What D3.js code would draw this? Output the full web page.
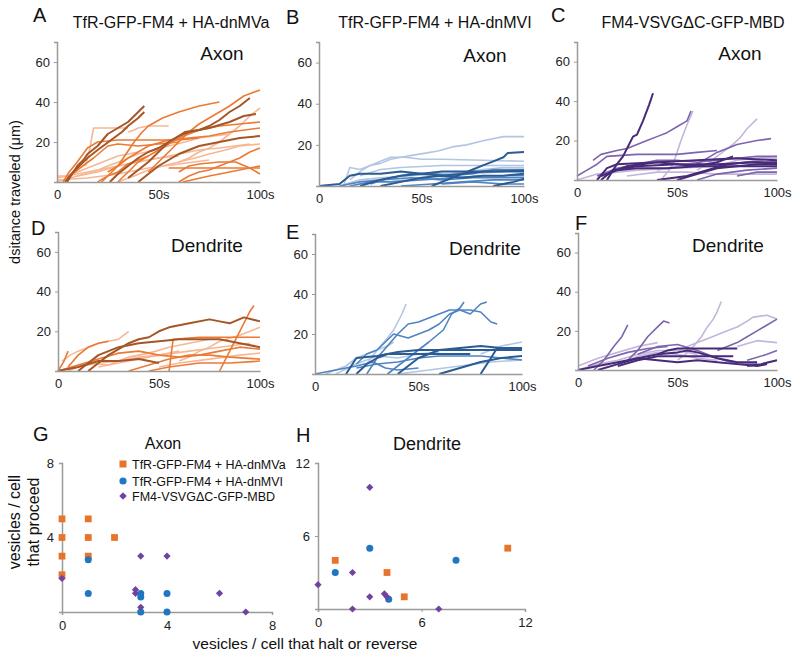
<!DOCTYPE html>
<html><head><meta charset="utf-8">
<script src="https://cdn.jsdelivr.net/npm/d3@7"></script>
<style>body{margin:0;background:#fff}svg{font-family:"Liberation Sans",Arial,sans-serif}</style>
</head><body><svg id="c" width="800" height="658"></svg>
<script>
// ---------- DATA: trajectories [time s, distance µm] ----------
const A_light = [
 [[14,8],[16,16],[18,27],[24,27],[30,27],[35,27]],
 [[35,25],[38,26],[40,27],[45,28],[50,28],[55,28]],
 [[0,2],[10,4],[20,6],[30,8],[40,10],[50,12],[60,13]],
 [[60,10],[65,12],[70,15],[75,17],[80,20],[85,24],[90,28],[95,33],[100,37]],
 [[0,0],[10,3],[20,5],[30,8],[40,10],[50,12],[60,14],[70,16],[80,17],[95,19]],
 [[10,3],[18,5],[25,8],[33,11],[40,14],[48,16],[55,18],[63,20],[70,22],[85,24]],
 [[30,0],[38,3],[45,6],[52,8],[60,10],[68,12],[75,14],[83,16],[90,18],[100,19]],
 [[0,1],[15,2],[30,4],[45,7],[60,9],[75,11]],
 [[0,3],[5,3],[10,5],[20,9],[30,13],[40,15]]
];
const A_mid = [
 [[22,0],[26,4],[30,8],[34,14],[38,20],[42,25],[45,28],[52,32],[60,35],[70,38],[80,40]],
 [[45,5],[50,10],[55,15],[60,20],[65,25],[70,29],[75,32],[80,35],[85,38],[92,43],[100,46]],
 [[30,0],[35,5],[40,10],[45,13],[50,16],[55,19],[60,22],[65,24],[70,26],[80,28],[90,29],[100,30]],
 [[25,5],[30,8],[35,12],[40,15],[45,18],[55,21],[65,22],[75,23],[85,25],[100,27]],
 [[60,5],[65,8],[70,9],[80,10],[88,10],[95,7],[100,4]],
 [[55,7],[70,7],[85,7],[100,7]],
 [[60,0],[65,3],[70,5],[75,6],[80,8],[85,10],[90,12],[95,15],[100,17]],
 [[3,0],[6,5],[10,10],[15,17],[20,20],[30,21],[40,21],[50,21],[60,21],[70,22]],
 [[5,2],[10,6],[14,9],[18,12],[25,18],[30,19],[40,18],[50,19],[60,20]],
 [[62,0],[75,3],[85,5],[100,8]],
 [[20,0],[25,3],[30,5],[35,9],[40,11],[45,13]]
];
const A_dark = [
 [[5,0],[8,5],[10,8],[13,11],[15,14],[20,18],[25,24],[30,27],[35,30],[38,33],[40,35],[43,38]],
 [[4,0],[7,4],[10,7],[15,12],[20,16],[24,19],[28,22],[32,25],[35,28],[40,32],[43,35]],
 [[26,0],[30,4],[35,8],[40,12],[45,15],[50,17],[55,20],[60,23],[65,25],[70,26],[75,28],[80,31],[85,35],[90,38],[95,42]],
 [[40,0],[45,4],[50,8],[55,11],[60,14],[65,16],[70,18],[80,20],[90,22],[100,23]],
 [[35,2],[40,6],[45,10],[50,15],[55,20],[60,23],[63,25],[70,26],[75,27],[85,30],[92,33],[98,34]]
];
const B_light = [
 [[12,0],[15,9],[20,8],[25,10],[30,11],[35,13],[40,14],[46,15],[52,16],[58,17],[65,19],[72,20],[80,22],[90,24],[100,24]],
 [[15,3],[20,7],[25,10],[30,12],[35,14],[42,14],[50,13],[60,13],[80,12.5],[100,12]],
 [[20,5],[30,8],[40,9],[60,10],[80,10],[100,10]],
 [[35,2],[50,4],[65,6],[80,8],[90,9],[100,9]],
 [[10,0],[20,3],[30,4],[45,5],[60,6],[75,6],[90,7]]
];
const B_mid = [
 [[10,0],[20,2],[30,3],[45,4],[60,3],[75,4],[90,4],[100,4]],
 [[40,0],[55,1],[70,2],[85,3],[100,3]],
 [[25,1],[35,4],[45,6],[55,6],[65,5],[75,6],[85,8],[100,8]],
 [[60,1],[75,2],[90,1],[100,1]],
 [[15,0],[25,2],[35,2],[50,3],[65,4],[80,5],[100,5]]
];
const B_dark = [
 [[55,0],[60,2],[65,4],[70,6],[75,8],[80,10],[85,12],[90,14],[92,16],[100,16.5]],
 [[0,0],[10,1],[15,5],[20,6],[30,6],[40,7],[50,6],[60,5],[70,6],[80,7],[90,7],[100,7]],
 [[30,0],[40,2],[50,4],[60,5],[70,4],[80,5],[90,5],[100,6]],
 [[85,0],[95,2],[100,3.5]],
 [[20,0],[30,3],[40,5],[50,6],[60,7],[70,7],[80,7],[100,7.5]]
];
const C_light = [
 [[42,0],[46,5],[48,8],[50,14],[52,20],[55,28],[58,35]],
 [[60,5],[65,8],[70,12],[74,15],[78,18],[82,22],[85,26],[90,31]],
 [[0,0],[10,3],[30,5],[50,6],[70,7],[90,10],[100,11]],
 [[25,2],[40,4],[55,4],[70,3],[85,3],[100,3]],
 [[40,5],[50,7],[60,8],[70,7],[80,10],[90,11],[100,12]]
];
const C_mid = [
 [[8,10],[12,13],[20,15],[25,16],[30,18],[35,20],[40,22],[45,24],[50,27],[55,30],[57,35]],
 [[0,2],[5,5],[10,8],[15,12],[30,13],[50,13],[60,14],[70,15]],
 [[60,0],[70,3],[85,5],[100,6]],
 [[80,2],[90,4],[100,4]],
 [[60,8],[65,11],[70,14],[75,16],[80,18],[85,19],[90,20],[97,21]],
 [[10,2],[20,6],[30,8],[40,10],[50,10],[60,9],[70,10],[80,11],[90,12],[100,12]]
];
const C_dark = [
 [[15,0],[18,5],[20,8],[23,12],[25,16],[28,22],[30,23],[33,30],[36,38],[38,44]],
 [[10,0],[15,6],[20,8],[40,9],[60,10],[80,11],[100,10]],
 [[12,0],[18,5],[30,7],[50,8],[70,8],[90,9],[100,8]],
 [[40,0],[55,2],[65,5],[75,8],[85,9],[100,9]],
 [[15,3],[25,7],[40,9],[50,8],[60,7],[70,9],[78,12]],
 [[12,2],[20,5],[30,6],[45,6],[60,7],[75,7],[90,7],[100,7]],
 [[50,0],[60,3],[70,6],[80,7],[90,8],[100,8]]
];
const D_light = [
 [[2,5],[6,8],[10,10],[15,12],[20,14],[25,15],[30,16],[35,20]],
 [[60,5],[65,7],[70,10],[75,12],[80,15],[90,18],[100,22]],
 [[20,2],[35,5],[50,8],[65,10],[80,12],[95,14]],
 [[5,0],[15,4],[25,3],[35,7],[45,9],[55,12],[65,14],[75,16]],
 [[50,2],[60,4],[75,6],[90,8],[100,9]],
 [[10,2],[20,4],[30,5],[40,7],[50,8],[60,10]]
];
const D_mid = [
 [[80,0],[85,10],[90,20],[95,30],[97,33]],
 [[55,0],[57,16],[70,17],[85,17],[100,17]],
 [[0,0],[3,5],[5,10]],
 [[0,0],[10,3],[20,6],[30,9],[40,10],[50,8],[60,7],[70,8],[80,10],[90,12],[100,11]],
 [[35,0],[45,3],[55,6],[65,8],[75,8],[85,7],[100,6]],
 [[45,0],[55,2],[70,4],[85,4],[100,5]],
 [[5,2],[10,8],[15,12],[20,14],[25,15]]
];
const D_dark = [
 [[15,0],[20,4],[25,8],[30,11],[35,14],[40,16],[45,17],[50,20],[55,22],[65,24],[75,26],[80,25],[85,24],[92,27],[100,25]],
 [[10,0],[15,4],[20,8],[25,10],[30,12],[40,14],[50,15],[60,16],[70,16],[80,16],[90,14],[100,12]],
 [[0,0],[10,2],[20,5],[30,5],[40,6],[50,4]]
];
const E_light = [
 [[25,5],[30,12],[35,18],[38,22],[40,26],[42,30],[44,35]],
 [[40,0],[55,2],[70,4],[85,6],[100,7]],
 [[5,0],[15,4],[20,8],[25,10],[30,12],[35,14],[38,16]],
 [[80,10],[90,14],[100,16]],
 [[10,0],[20,5],[30,9],[40,8],[50,10],[60,11]]
];
const E_mid = [
 [[25,0],[30,8],[35,14],[40,20],[45,25],[50,26],[55,28],[60,30],[65,32],[75,32],[80,31],[85,26],[88,25]],
 [[20,5],[25,10],[30,12],[34,16],[38,20],[45,18],[50,20],[55,22],[60,25],[65,30],[70,32],[75,30],[80,35],[83,36]],
 [[35,0],[40,4],[45,8],[50,12],[55,16],[62,22],[66,30],[70,33],[72,36]],
 [[20,3],[30,5],[40,6],[50,8],[60,9],[70,9],[80,9],[90,8],[100,7]],
 [[0,0],[10,2],[20,4],[28,6],[34,3],[40,2],[50,3]]
];
const E_dark = [
 [[40,0],[45,4],[50,8],[55,10],[60,12],[70,13],[80,14],[90,13],[100,13]],
 [[15,0],[20,8],[30,9],[40,11],[50,12],[60,12],[70,12],[80,12],[90,12],[100,12]],
 [[80,0],[85,8],[88,13],[95,12],[100,13]],
 [[60,0],[70,3],[80,6],[90,8],[100,9]],
 [[20,0],[25,5],[30,8],[35,10],[45,10],[60,10],[75,10]]
];
const F_light = [
 [[50,5],[54,8],[58,12],[62,17],[65,22],[68,26],[70,30],[72,35]],
 [[50,10],[55,12],[60,14],[65,16],[70,18],[75,20],[80,22],[85,25],[88,27],[95,28],[100,26]],
 [[80,12],[90,15],[100,14]],
 [[0,2],[10,6],[20,9],[30,12],[40,14]],
 [[20,3],[30,7],[40,9],[50,8],[60,6],[70,5]],
 [[0,0],[10,3],[20,5],[30,8],[40,10],[50,10],[60,8]]
];
const F_mid = [
 [[8,0],[13,5],[18,12],[22,17],[25,23]],
 [[25,5],[30,10],[35,17],[40,22],[43,25],[46,24]],
 [[70,10],[75,12],[80,14],[85,17],[90,20],[95,23],[100,26]],
 [[30,8],[40,12],[50,13],[60,10],[70,6],[80,3],[90,3]],
 [[85,5],[95,8],[100,10]],
 [[5,2],[15,6],[25,9],[35,11],[45,12]]
];
const F_dark = [
 [[40,8],[45,10],[50,11],[60,11],[70,11],[80,11]],
 [[20,2],[30,5],[40,7],[50,7],[60,7],[70,7],[78,7]],
 [[10,0],[20,3],[30,6],[40,5],[50,4],[60,5],[70,4],[80,3],[90,2],[95,3]],
 [[0,0],[10,2],[20,4],[30,6],[40,8],[50,9],[55,10],[60,9],[70,6],[80,4],[90,4]],
 [[85,2],[92,3],[100,5]]
];
const yTicksLine = [20, 40, 60];
const xTickLabels = ["0", "50s", "100s"];
const xTickValues = [0, 50, 100];

// Scatter: [halt or reverse, proceed]
const seriesNames = ["TfR-GFP-FM4 + HA-dnMVa", "TfR-GFP-FM4 + HA-dnMVI", "FM4-VSVG\u0394C-GFP-MBD"];
const G_dnMVa = [[0,5],[1,5],[0,4],[1,4],[2,4],[0,3],[1,3],[0,2]];
const G_dnMVI = [[1,2.8],[1,1],[3,1],[3,0.8],[4,1],[3,0],[4,0]];
const G_MBD   = [[0,1.8],[3,3],[4,3],[2.8,1.2],[2.8,1],[3,0.25],[6,1],[7,0]];
const H_dnMVa = [[1,4],[4,3],[5,1],[11,5]];
const H_dnMVI = [[3,5],[1,3],[8,4],[4.1,0.8]];
const H_MBD   = [[0,2],[3,10],[2,3],[3,1],[3.85,1.25],[4,1],[2,0],[7,0]];
const G_ticks = [0, 4, 8];
const H_ticks = [0, 6, 12];

// ---------- DRAW ----------
const svg = d3.select("#c");
const axisCol = "#9a9a9a";
const FF = "Liberation Sans, Arial, sans-serif";
const pal = {
  orange: {light:"#f6b894", mid:"#ea7a34", dark:"#a65626"},
  blue:   {light:"#b2c6e3", mid:"#4f84c1", dark:"#2a5b93"},
  purple: {light:"#c2b6da", mid:"#7d64ae", dark:"#472a78"}
};

function linePanel(cfg) {
  const x = d3.scaleLinear().domain([0,100]).range([cfg.x0, cfg.x1]);
  const y = d3.scaleLinear().domain([0,70]).range([cfg.yb, cfg.yt]);
  const g = svg.append("g");
  const line = d3.line().x(d=>x(d[0])).y(d=>y(d[1]));
  const cols = pal[cfg.color];
  [["light", cfg.light, 1.6], ["mid", cfg.mid, 1.6], ["dark", cfg.dark, 2]].forEach(([k, arr, w]) => {
    g.selectAll(null).data(arr).enter().append("path")
      .attr("d", line).attr("fill","none").attr("stroke", cols[k])
      .attr("stroke-width", w).attr("stroke-linejoin","round");
  });
  const ya = g.append("g").attr("transform", `translate(${cfg.x0},0)`)
    .call(d3.axisLeft(y).tickValues(yTicksLine).tickSize(3).tickPadding(4));
  ya.select(".domain").attr("stroke", axisCol).attr("stroke-width",1.5);
  ya.selectAll(".tick line").attr("stroke", axisCol);
  ya.selectAll("text").attr("font-size", 13).attr("fill","#222").attr("font-family",FF);
  const xa = g.append("g").attr("transform", `translate(0,${cfg.yb})`)
    .call(d3.axisBottom(x).tickValues(xTickValues).tickFormat((d,i)=>xTickLabels[i]).tickSize(0).tickPadding(8));
  xa.select(".domain").attr("stroke", axisCol).attr("stroke-width",1.5);
  xa.selectAll("text").attr("font-size", 13).attr("fill","#222").attr("font-family",FF);
  g.append("text").attr("x", cfg.lx).attr("y", cfg.ly).attr("text-anchor","middle")
    .attr("font-size", 19).attr("fill","#111").text(cfg.label);
  g.append("text").attr("x", cfg.px).attr("y", cfg.py).attr("font-size", 20).attr("fill","#111").text(cfg.letter);
}

linePanel({x0:57,x1:260,yb:182,yt:42,color:"orange",light:A_light,mid:A_mid,dark:A_dark,label:"Axon",lx:222,ly:60,letter:"A",px:33,py:22});
linePanel({x0:319,x1:524,yb:186,yt:42,color:"blue",light:B_light,mid:B_mid,dark:B_dark,label:"Axon",lx:485,ly:62,letter:"B",px:286,py:24});
linePanel({x0:577,x1:777,yb:180,yt:42,color:"purple",light:C_light,mid:C_mid,dark:C_dark,label:"Axon",lx:740,ly:60,letter:"C",px:551,py:22});
linePanel({x0:58,x1:260,yb:371,yt:232,color:"orange",light:D_light,mid:D_mid,dark:D_dark,label:"Dendrite",lx:207,ly:252,letter:"D",px:31,py:235});
linePanel({x0:315,x1:522,yb:374,yt:234,color:"blue",light:E_light,mid:E_mid,dark:E_dark,label:"Dendrite",lx:485,ly:255,letter:"E",px:286,py:239});
linePanel({x0:578,x1:777,yb:370,yt:233,color:"purple",light:F_light,mid:F_mid,dark:F_dark,label:"Dendrite",lx:728,ly:252,letter:"F",px:575,py:230});

[["TfR-GFP-FM4 + HA-dnMVa",171],["TfR-GFP-FM4 + HA-dnMVI",435],["FM4-VSVG\u0394C-GFP-MBD",693]].forEach(([t,cx])=>{
  svg.append("text").attr("x",cx).attr("y",28).attr("text-anchor","middle").attr("font-size",16).attr("fill","#111").text(t);
});
svg.append("text").attr("transform","translate(20,192) rotate(-90)").attr("text-anchor","middle")
  .attr("font-size",14.5).attr("fill","#111").text("dsitance traveled (\u03bcm)");

function scatterPanel(cfg) {
  const x = d3.scaleLinear().domain([0,cfg.max]).range([cfg.x0,cfg.x1]);
  const y = d3.scaleLinear().domain([0,cfg.max]).range([cfg.yb,cfg.yt]);
  const g = svg.append("g");
  const xa = g.append("g").attr("transform",`translate(0,${cfg.yb})`)
    .call(d3.axisBottom(x).tickValues(cfg.ticks).tickSize(3).tickPadding(6));
  const ya = g.append("g").attr("transform",`translate(${cfg.x0},0)`)
    .call(d3.axisLeft(y).tickValues(cfg.ticks.slice(1)).tickSize(3).tickPadding(5));
  [xa,ya].forEach(a=>{
    a.select(".domain").attr("stroke",axisCol).attr("stroke-width",1.5);
    a.selectAll(".tick line").attr("stroke",axisCol);
    a.selectAll("text").attr("font-size",13).attr("fill","#222").attr("font-family",FF);
  });
  g.selectAll(null).data(cfg.sq).enter().append("rect")
    .attr("x",d=>x(d[0])-3.4).attr("y",d=>y(d[1])-3.4).attr("width",6.8).attr("height",6.8).attr("fill","#e8732d");
  g.selectAll(null).data(cfg.ci).enter().append("circle")
    .attr("cx",d=>x(d[0])).attr("cy",d=>y(d[1])).attr("r",3.5).attr("fill","#1f77c4");
  g.selectAll(null).data(cfg.di).enter().append("path")
    .attr("d",d3.symbol(d3.symbolSquare, 26)).attr("transform",d=>`translate(${x(d[0])},${y(d[1])}) rotate(45)`).attr("fill","#7043a0");
  g.append("text").attr("x",cfg.tx).attr("y",cfg.ty).attr("text-anchor","middle").attr("font-size",cfg.tfs).attr("fill","#111").text(cfg.title);
  g.append("text").attr("x",cfg.px).attr("y",cfg.py).attr("font-size",20).attr("fill","#111").text(cfg.letter);
}
scatterPanel({max:8,x0:62,x1:272,yb:612,yt:463,ticks:G_ticks,sq:G_dnMVa,ci:G_dnMVI,di:G_MBD,title:"Axon",tfs:16,tx:163,ty:449,letter:"G",px:33,py:441});
scatterPanel({max:12,x0:318,x1:525,yb:609,yt:463,ticks:H_ticks,sq:H_dnMVa,ci:H_dnMVI,di:H_MBD,title:"Dendrite",tfs:18,tx:427,ty:450,letter:"H",px:296,py:442});

const lg = svg.append("g");
const ly = [464, 481, 496];
lg.append("rect").attr("x",119.5).attr("y",ly[0]-3.5).attr("width",7).attr("height",7).attr("fill","#e8732d");
lg.append("circle").attr("cx",123).attr("cy",ly[1]).attr("r",3.6).attr("fill","#1f77c4");
lg.append("path").attr("d",d3.symbol(d3.symbolSquare,28)).attr("transform",`translate(123,${ly[2]}) rotate(45)`).attr("fill","#7043a0");
seriesNames.forEach((n,i)=>lg.append("text").attr("x",132).attr("y",ly[i]+4.5).attr("font-size",12.5).attr("fill","#111").text(n));

svg.append("text").attr("x",305).attr("y",649).attr("text-anchor","middle").attr("font-size",15.5).attr("fill","#111").text("vesicles / cell that halt or reverse");
svg.append("text").attr("transform","translate(20,522) rotate(-90)").attr("text-anchor","middle").attr("font-size",16).attr("fill","#111").text("vesicles / cell");
svg.append("text").attr("transform","translate(39,522) rotate(-90)").attr("text-anchor","middle").attr("font-size",16).attr("fill","#111").text("that proceed");
</script></body></html>
